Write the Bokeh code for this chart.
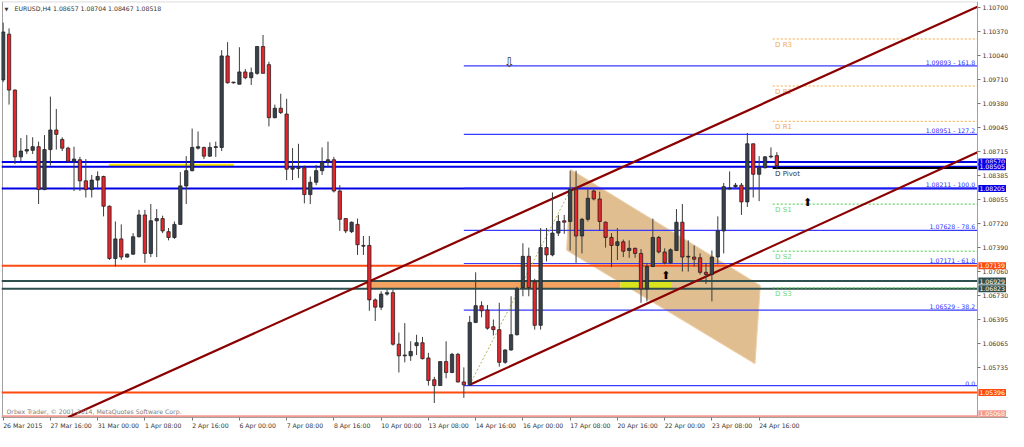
from bokeh.plotting import figure
from bokeh.models import (Range1d, FixedTicker, NumeralTickFormatter, Label, ColumnDataSource,
                          LinearAxis)
from bokeh.core.properties import value
from bokeh.embed import file_html
from bokeh.resources import INLINE

FONT = "DejaVu Sans"
FS = "6.2px"

# ---------------- data (EURUSD H4) ----------------
opens = [1.0970, 1.1033, 1.0956, 1.0864, 1.0872, 1.0873, 1.0878, 1.0819, 1.0874, 1.0901,
         1.0888, 1.0876, 1.0858, 1.0860, 1.0831, 1.0819, 1.0832, 1.0837, 1.0796, 1.0724,
         1.0751, 1.0726, 1.0730, 1.0754, 1.0784, 1.0731, 1.0776, 1.0779, 1.0761, 1.0753,
         1.0771, 1.0824, 1.0845, 1.0876, 1.0877, 1.0865, 1.0877, 1.0877, 1.1003, 1.0966,
         1.0964, 1.0981, 1.0973, 1.0979, 1.1016, 1.0991, 1.0918, 1.0931, 1.0923, 1.0847,
         1.0848, 1.0849, 1.0812, 1.0829, 1.0845, 1.0857, 1.0860, 1.0817, 1.0779, 1.0761,
         1.0771, 1.0741, 1.0742, 1.0667, 1.0657, 1.0675, 1.0677, 1.0606, 1.0590, 1.0590,
         1.0604, 1.0608, 1.0587, 1.0557, 1.0549, 1.0582, 1.0567, 1.0592, 1.0554, 1.0550,
         1.0636, 1.0659, 1.0653, 1.0630, 1.0626, 1.0581, 1.0598, 1.0619, 1.0684, 1.0727,
         1.0692, 1.0632, 1.0739, 1.0729, 1.0759, 1.0776, 1.0775, 1.0819, 1.0755, 1.0778,
         1.0817, 1.0806, 1.0774, 1.0753, 1.0742, 1.0747, 1.0735, 1.0738, 1.0731, 1.0682,
         1.0713, 1.0753, 1.0733, 1.0718, 1.0735, 1.0774, 1.0726, 1.0726, 1.0725, 1.0705,
         1.0702, 1.0726, 1.0762, 1.0820, 1.0823, 1.0825, 1.0802, 1.0882, 1.0840, 1.0849,
         1.0864, 1.08657]
highs = [1.1049, 1.1041, 1.0957, 1.0890, 1.0894, 1.0891, 1.0885, 1.0894, 1.0947, 1.0930,
         1.0891, 1.0878, 1.0878, 1.0864, 1.0861, 1.0839, 1.0844, 1.0838, 1.0797, 1.0775,
         1.0771, 1.0731, 1.0759, 1.0791, 1.0791, 1.0799, 1.0792, 1.0783, 1.0766, 1.0775,
         1.0843, 1.0865, 1.0903, 1.0899, 1.0878, 1.0884, 1.0885, 1.1011, 1.1022, 1.0967,
         1.1015, 1.0985, 1.0987, 1.1016, 1.1032, 1.0995, 1.0936, 1.0951, 1.0944, 1.0876,
         1.0882, 1.0852, 1.0837, 1.0853, 1.0877, 1.0885, 1.0864, 1.0825, 1.0779, 1.0775,
         1.0779, 1.0755, 1.0755, 1.0669, 1.0679, 1.0681, 1.0681, 1.0622, 1.0635, 1.0610,
         1.0619, 1.0616, 1.0594, 1.0561, 1.0582, 1.0610, 1.0594, 1.0594, 1.0574, 1.0645,
         1.0705, 1.0665, 1.0660, 1.0640, 1.0663, 1.0599, 1.0672, 1.0685, 1.0745, 1.0739,
         1.0696, 1.0766, 1.0766, 1.0815, 1.0784, 1.0784, 1.0845, 1.0845, 1.0780, 1.0819,
         1.0819, 1.0816, 1.0775, 1.0759, 1.0766, 1.0750, 1.0749, 1.0739, 1.0737, 1.0718,
         1.0779, 1.0755, 1.0738, 1.0738, 1.0792, 1.0799, 1.0749, 1.0742, 1.0731, 1.0718,
         1.0735, 1.0782, 1.0828, 1.0844, 1.0828, 1.0828, 1.0897, 1.0882, 1.0865, 1.0865,
         1.0877, 1.08704]
lows = [1.0967, 1.0936, 1.0854, 1.0858, 1.0868, 1.0868, 1.0799, 1.0818, 1.0852, 1.0874,
        1.0872, 1.0857, 1.0817, 1.0817, 1.0808, 1.0808, 1.0819, 1.0782, 1.0722, 1.0713,
        1.0722, 1.0725, 1.0729, 1.0753, 1.0718, 1.0726, 1.0726, 1.0759, 1.0749, 1.0751,
        1.0771, 1.0799, 1.0844, 1.0874, 1.0861, 1.0864, 1.0864, 1.0872, 1.0965, 1.0965,
        1.0964, 1.0971, 1.0963, 1.0977, 1.0979, 1.0906, 1.0917, 1.0923, 1.0832, 1.0832,
        1.0835, 1.0800, 1.0799, 1.0825, 1.0839, 1.0850, 1.0815, 1.0762, 1.0759, 1.0759,
        1.0729, 1.0729, 1.0652, 1.0638, 1.0653, 1.0673, 1.0604, 1.0567, 1.0581, 1.0583,
        1.0591, 1.0585, 1.0549, 1.0525, 1.0549, 1.0559, 1.0566, 1.0553, 1.0532, 1.0549,
        1.0635, 1.0643, 1.0626, 1.0618, 1.0575, 1.0579, 1.0597, 1.0618, 1.0672, 1.0672,
        1.0626, 1.0626, 1.0720, 1.0727, 1.0755, 1.0758, 1.0735, 1.0718, 1.0731, 1.0775,
        1.0804, 1.0762, 1.0739, 1.0712, 1.0722, 1.0726, 1.0725, 1.0725, 1.0663, 1.0665,
        1.0712, 1.0731, 1.0716, 1.0717, 1.0735, 1.0706, 1.0706, 1.0713, 1.0702, 1.0689,
        1.0665, 1.0716, 1.0731, 1.0819, 1.0820, 1.0784, 1.0795, 1.0808, 1.0803, 1.0848,
        1.0862, 1.08467]
closes = [1.1036, 1.0956, 1.0864, 1.0872, 1.0874, 1.0878, 1.0819, 1.0874, 1.0901, 1.0895,
          1.0876, 1.0858, 1.0861, 1.0831, 1.0819, 1.0832, 1.0837, 1.0796, 1.0724, 1.0751,
          1.0726, 1.0730, 1.0754, 1.0784, 1.0731, 1.0776, 1.0779, 1.0762, 1.0753, 1.0771,
          1.0824, 1.0845, 1.0877, 1.0878, 1.0865, 1.0877, 1.0878, 1.1003, 1.0966, 1.0967,
          1.0981, 1.0973, 1.0980, 1.1016, 1.0979, 1.0918, 1.0931, 1.0925, 1.0847, 1.0849,
          1.0849, 1.0812, 1.0829, 1.0845, 1.0857, 1.0860, 1.0817, 1.0778, 1.0762, 1.0774,
          1.0743, 1.0742, 1.0667, 1.0657, 1.0675, 1.0677, 1.0606, 1.0590, 1.0591, 1.0596,
          1.0608, 1.0586, 1.0556, 1.0549, 1.0582, 1.0567, 1.0592, 1.0554, 1.0550, 1.0636,
          1.0659, 1.0652, 1.0628, 1.0626, 1.0581, 1.0598, 1.0619, 1.0682, 1.0727, 1.0684,
          1.0632, 1.0739, 1.0729, 1.0759, 1.0775, 1.0774, 1.0819, 1.0755, 1.0778, 1.0807,
          1.0806, 1.0775, 1.0753, 1.0742, 1.0747, 1.0734, 1.0738, 1.0731, 1.0682, 1.0713,
          1.0753, 1.0733, 1.0718, 1.0736, 1.0774, 1.0726, 1.0727, 1.0723, 1.0705, 1.0702,
          1.0726, 1.0762, 1.0823, 1.0821, 1.0825, 1.0802, 1.0882, 1.0840, 1.0849, 1.0864,
          1.0865, 1.08518]

date_ticks = [0, 8, 16, 24, 32, 40, 48, 56, 64, 72, 80, 88, 96, 104, 112, 120, 128]
date_labels = ["26 Mar 2015", "27 Mar 16:00", "31 Mar 00:00", "1 Apr 08:00", "2 Apr 16:00",
               "6 Apr 00:00", "7 Apr 08:00", "8 Apr 16:00", "10 Apr 00:00", "13 Apr 08:00",
               "14 Apr 16:00", "16 Apr 00:00", "17 Apr 08:00", "20 Apr 16:00", "22 Apr 00:00",
               "23 Apr 08:00", "24 Apr 16:00"]
price_ticks = [1.10700, 1.10370, 1.10040, 1.09710, 1.09380, 1.09045, 1.08715, 1.08385,
               1.08055, 1.07720, 1.07390, 1.07060, 1.06730, 1.06395, 1.06065, 1.05735]

# horizontal price lines (full width) and their price tags
hline_prices = [1.08570, 1.08505, 1.08205, 1.07139, 1.06929, 1.06823, 1.05396, 1.05068]
hline_colors = ["#0000e6", "#0000e6", "#0000e6", "#ff4a10", "#2f4f4f", "#2f4f4f", "#ff4a10", "#f59a90"]
hline_tags = ["1.08570", "1.08505", "1.08205", "1.07139", "1.06929", "1.06823", "1.05396", "1.05068"]

# Fibonacci levels
fib_prices = [1.09893, 1.08951, 1.08211, 1.07628, 1.07171, 1.06529, 1.05489]
fib_texts = ["1.09893 - 161.8", "1.08951 - 127.2", "1.08211 - 100.0", "1.07628 - 78.6",
             "1.07171 - 61.8", "1.06529 - 38.2", "0.0"]
fib_start_bar = 78

# daily pivots
pivot_names = ["D R3", "D R2", "D R1", "D Pivot", "D S1", "D S2", "D S3"]
pivot_prices = [1.10264, 1.09616, 1.09130, 1.08485, 1.07989, 1.07341, 1.06834]
pivot_start_bar = 130.3

# trend channel
upper_trend_bars = [11, 164.97]
upper_trend_prices = [1.05053, 1.10707]
lower_trend_bars = [79, 164.97]
lower_trend_prices = [1.05500, 1.08705]
swing_bars = [79, 96.2]
swing_prices = [1.05500, 1.08211]

# falling channel (shaded)
chan_bars = [96.1, 128.2, 127.3, 95.4]
chan_prices = [1.08465, 1.06868, 1.05789, 1.07354]

# zones
zone_left = [61.5, 104.5, 17.9]
zone_right = [104.5, 113.2, 39.05]
zone_bottom = [1.06823, 1.06823, 1.08505]
zone_top = [1.06929, 1.06929, 1.08544]
zone_colors = ["#f4a460", "#d9e41c", "#f5e600"]

# arrows
arrow_bars = [85.7, 136.2, 112.2]
arrow_prices = [1.09933, 1.08015, 1.07010]
arrow_syms = ["\u21e9", "\u2b06", "\u2b06"]
arrow_colors = ["#333333", "#000000", "#000000"]
arrow_sizes = ["13px", "11px", "11px"]

# ---------------- figure ----------------
W, H = 1008, 431
BL, BR, BT, BB = 1, 0, 1, 14
FW = W - BL - BR
X_END = 164.97          # last bar position of the chart area (price scale starts here)
X0, X1 = -0.28, 170.22  # full frame incl. the price scale strip
Y0, Y1 = 1.05050, 1.10780
PX_PER_BAR = FW / (X1 - X0)

p = figure(width=W, height=H, x_range=Range1d(X0, X1), y_range=Range1d(Y0, Y1),
           output_backend="svg", toolbar_location=None, y_axis_location=None,
           min_border_left=BL, min_border_right=BR, min_border_top=BT, min_border_bottom=BB,
           background_fill_color="white", border_fill_color="white",
           outline_line_color=None)
p.xgrid.visible = False
p.ygrid.visible = False

def style_axis(ax):
    ax.major_label_text_font = FONT
    ax.major_label_text_font_size = FS
    ax.major_label_text_color = "#333333"
    ax.major_tick_in = 0
    ax.major_tick_out = 3
    ax.major_tick_line_color = "#777777"
    ax.minor_tick_line_color = None
    ax.axis_line_color = "#a0a0a0"

# time axis: tick marks
xa = p.xaxis[0]
xa.ticker = FixedTicker(ticks=date_ticks)
xa.major_label_overrides = {t: "" for t in date_ticks}
style_axis(xa)
xa.major_label_text_font_size = "0px"
xa.major_label_standoff = 0

# time axis: labels starting at each tick (MetaTrader style)
EM = {" ": 0.318, ":": 0.337, "M": 0.863, "a": 0.613, "r": 0.411, "A": 0.684, "p": 0.635}
def text_width(s):
    return sum(EM.get(ch, 0.636) for ch in s) * 6.2
label_pos = [t + text_width(l) / 2 / PX_PER_BAR for t, l in zip(date_ticks, date_labels)]
xb = LinearAxis(ticker=FixedTicker(ticks=label_pos),
                major_label_overrides={lp: l for lp, l in zip(label_pos, date_labels)})
style_axis(xb)
xb.major_tick_out = 0
xb.major_tick_line_color = None
xb.axis_line_color = None
xb.major_label_standoff = 1
p.add_layout(xb, "below")

# price axis drawn at the right edge of the chart area
ya = LinearAxis(ticker=FixedTicker(ticks=price_ticks),
                formatter=NumeralTickFormatter(format="0.00000"),
                fixed_location=X_END)
style_axis(ya)
ya.major_label_standoff = 2
p.add_layout(ya, "right")

# left / top frame borders
p.line(x=[X0 + 0.17, X0 + 0.17], y=[Y0, Y1], line_color="#a0a0a0", line_width=1)
p.line(x=[X0, X_END], y=[1.10776, 1.10776], line_color="#c8c8c8", line_width=1)

# shaded falling channel
p.patch(x=chan_bars, y=chan_prices, fill_color="#deb887", fill_alpha=0.92,
        line_color="#ecd2ad", line_width=1)

# zones
p.quad(left=zone_left, right=zone_right, bottom=zone_bottom, top=zone_top,
       fill_color=zone_colors, line_color=None)

# full width lines
n = len(hline_prices)
p.segment(x0=[X0] * n, x1=[X_END] * n, y0=hline_prices, y1=hline_prices,
          line_color=hline_colors, line_width=2)

# fib lines
nf = len(fib_prices)
p.segment(x0=[fib_start_bar] * nf, x1=[X_END] * nf, y0=fib_prices, y1=fib_prices,
          line_color="#3a3aff", line_width=1.2)
p.text(x=[X_END - 0.4] * nf, y=fib_prices, text=fib_texts, text_align="right",
       text_baseline="bottom", text_font=value(FONT), text_font_size=value(FS),
       text_color="#3030ff")

# pivots
piv_colors = ["#ffa83c", "#ffa83c", "#ffa83c", "#000000", "#44cc44", "#44cc44", "#44cc44"]
piv_text_colors = ["#f4a850", "#f4a850", "#f4a850", "#333333", "#70d870", "#70d870", "#70d870"]
for pr, c in zip(pivot_prices, piv_colors):
    if c == "#000000":
        p.line(x=[pivot_start_bar, X_END], y=[pr, pr], line_color=c, line_width=2)
    else:
        p.line(x=[pivot_start_bar, X_END], y=[pr, pr], line_color=c, line_width=1,
               line_dash="2 2")
p.text(x=[pivot_start_bar + 0.4] * len(pivot_prices), y=pivot_prices, text=pivot_names,
       text_baseline="top", y_offset=2, text_font=value(FONT), text_font_size=value("7px"),
       text_color=piv_text_colors)

# trend lines
p.line(x=swing_bars, y=swing_prices, line_color="#b4b45a", line_width=1, line_dash="2 2")
p.line(x=upper_trend_bars, y=upper_trend_prices, line_color="#8b0000", line_width=2.2)
p.line(x=lower_trend_bars, y=lower_trend_prices, line_color="#8b0000", line_width=2.2)

# candles
bars = list(range(len(opens)))
bull = [c >= o for o, c in zip(opens, closes)]
src = ColumnDataSource(dict(
    x=bars, high=highs, low=lows,
    top=[max(o, c) for o, c in zip(opens, closes)],
    bottom=[min(o, c) for o, c in zip(opens, closes)],
    fill=["#38424c" if b else "#e8252d" for b in bull],
))
p.segment(x0="x", x1="x", y0="low", y1="high", source=src, line_color="#3c3c3c", line_width=1)
p.vbar(x="x", width=0.56, top="top", bottom="bottom", source=src,
       fill_color="fill", line_color="#222222", line_width=0.8)

# arrows
p.text(x=arrow_bars, y=arrow_prices, text=arrow_syms, text_align="center", text_baseline="middle",
       text_font=value(FONT), text_font_size=arrow_sizes, text_color=arrow_colors)

# price tags on the price scale (the lowest one is kept above the bottom edge)
for i, (pr, c, t) in enumerate(zip(hline_prices, hline_colors, hline_tags)):
    last = i == len(hline_prices) - 1
    p.add_layout(Label(x=X_END + 0.15, y=pr, text=t,
                       text_baseline="bottom" if last else "middle", y_offset=-1 if last else 0,
                       text_align="left", text_font=FONT,
                       text_font_size=FS, text_color="white",
                       background_fill_color=c, padding=1))

# title and copyright
p.add_layout(Label(x=3, y=409, x_units="screen", y_units="screen", text="\u25bc",
                   text_font=FONT, text_font_size="5px", text_color="#333333",
                   text_baseline="middle"))
p.add_layout(Label(x=13, y=409, x_units="screen", y_units="screen",
                   text="EURUSD,H4  1.08657 1.08704 1.08467 1.08518",
                   text_font=FONT, text_font_size=FS, text_color="#333333",
                   text_baseline="middle"))
p.add_layout(Label(x=5, y=6, x_units="screen", y_units="screen",
                   text="Orbex Trader, \u00a9 2001-2014, MetaQuotes Software Corp.",
                   text_font=FONT, text_font_size=FS, text_color="#808080",
                   text_baseline="middle"))

open("out.html", "w").write(file_html(p, INLINE))
